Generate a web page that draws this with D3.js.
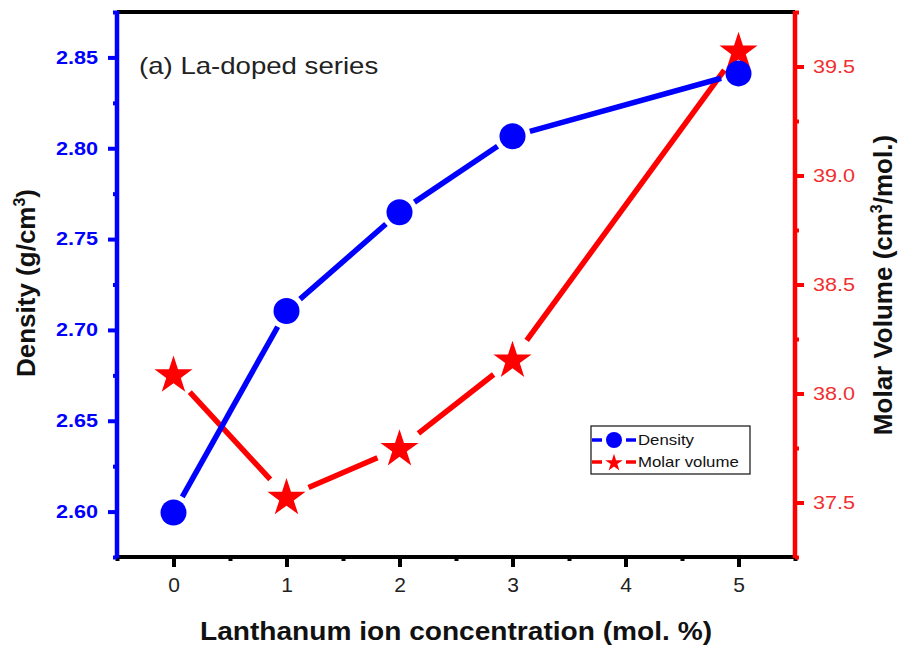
<!DOCTYPE html>
<html>
<head>
<meta charset="utf-8">
<script src="https://cdn.jsdelivr.net/npm/d3@7/dist/d3.min.js"></script>
<style>
  html, body { margin: 0; padding: 0; background: #fff; }
  svg { display: block; font-family: Arial, "Liberation Sans", sans-serif; }
</style>
</head>
<body>
<svg id="chart" width="898" height="648"></svg>
<script>
// La-doped glass series: density and molar volume vs. La ion content
const concentration = [0, 1, 2, 3, 5];
const density = [2.5995, 2.7104, 2.7648, 2.8066, 2.8412];
const molarVolume = [38.087, 37.525, 37.749, 38.155, 39.572];

const xTicks = [0, 1, 2, 3, 4, 5];
const xMinorTicks = [-0.5, 0.5, 1.5, 2.5, 3.5, 4.5, 5.5];
const densityTicks = [2.60, 2.65, 2.70, 2.75, 2.80, 2.85];
const densityMinorTicks = [2.575, 2.625, 2.675, 2.725, 2.775, 2.825, 2.875];
const molarTicks = [37.5, 38.0, 38.5, 39.0, 39.5];
const molarMinorTicks = [37.25, 37.75, 38.25, 38.75, 39.25, 39.75];

const seriesNames = ["Density", "Molar volume"];

const BLUE = "#0000ff", RED = "#ff0000";
const SX = 1.2; // horizontal text stretch

const svg = d3.select("#chart");
svg.append("rect").attr("width", 898).attr("height", 648).attr("fill", "#fff");

const L = 117, R = 795, T = 12, B = 557;

const x = d3.scaleLinear().domain([-0.5, 5.5]).range([L, R]);
const yD = d3.scaleLinear().domain([2.575, 2.875]).range([B, T]);
const yM = d3.scaleLinear().domain([37.25, 39.75]).range([B, T]);

// ---- axes ----
function styleAxis(g, color, width) {
  g.select(".domain").remove();
  g.selectAll(".tick line").attr("stroke", color).attr("stroke-width", width);
}

// minor ticks
svg.append("g").attr("transform", `translate(0,${B})`)
  .call(d3.axisBottom(x).tickValues(xMinorTicks).tickSize(4).tickFormat(""))
  .call(g => styleAxis(g, "#000", 4));
svg.append("g").attr("transform", `translate(${L},0)`)
  .call(d3.axisLeft(yD).tickValues(densityMinorTicks).tickSize(4).tickFormat(""))
  .call(g => styleAxis(g, BLUE, 4));
svg.append("g").attr("transform", `translate(${R},0)`)
  .call(d3.axisRight(yM).tickValues(molarMinorTicks).tickSize(4).tickFormat(""))
  .call(g => styleAxis(g, RED, 4));

// major ticks + labels
const gx = svg.append("g").attr("transform", `translate(0,${B})`)
  .call(d3.axisBottom(x).tickValues(xTicks).tickSize(10).tickPadding(10).tickFormat(d3.format("d")))
  .call(g => styleAxis(g, "#000", 4));
gx.selectAll(".tick text")
  .attr("fill", "#222").attr("font-size", 21)
  .attr("transform", "scale(1.0,1)");

const gl = svg.append("g").attr("transform", `translate(${L},0)`)
  .call(d3.axisLeft(yD).tickValues(densityTicks).tickSize(9).tickPadding(10).tickFormat(d3.format(".2f")))
  .call(g => styleAxis(g, BLUE, 4));
gl.selectAll(".tick text")
  .attr("fill", BLUE).attr("font-size", 18).attr("font-weight", "bold")
  .attr("x", -19 / SX).attr("transform", `scale(${SX},1)`);

const gr = svg.append("g").attr("transform", `translate(${R},0)`)
  .call(d3.axisRight(yM).tickValues(molarTicks).tickSize(9).tickPadding(9).tickFormat(d3.format(".1f")))
  .call(g => styleAxis(g, RED, 4));
gr.selectAll(".tick text")
  .attr("fill", "#f03030").attr("font-size", 18)
  .attr("x", 18 / SX).attr("transform", `scale(${SX},1)`);

// frame
svg.append("line").attr("x1", L).attr("x2", R).attr("y1", T).attr("y2", T)
  .attr("stroke", "#000").attr("stroke-width", 4);
svg.append("line").attr("x1", L).attr("x2", R).attr("y1", B).attr("y2", B)
  .attr("stroke", "#000").attr("stroke-width", 4);
svg.append("line").attr("x1", L).attr("x2", L).attr("y1", T - 1).attr("y2", B + 1)
  .attr("stroke", BLUE).attr("stroke-width", 4.5);
svg.append("line").attr("x1", R).attr("x2", R).attr("y1", T - 1).attr("y2", B + 1)
  .attr("stroke", RED).attr("stroke-width", 4.5);

// ---- series ----
const starPath = d3.symbol(d3.symbolStar, 450)();
const legendStar = d3.symbol(d3.symbolStar, 95)();

// connecting segments with a gap around each symbol
function gappedSegments(pts, gap) {
  const segs = [];
  for (let i = 0; i < pts.length - 1; i++) {
    const [x1, y1] = pts[i], [x2, y2] = pts[i + 1];
    const len = Math.hypot(x2 - x1, y2 - y1);
    const ux = (x2 - x1) / len, uy = (y2 - y1) / len;
    segs.push([x1 + ux * gap, y1 + uy * gap, x2 - ux * gap, y2 - uy * gap]);
  }
  return segs;
}

const molarPts = concentration.map((c, i) => [x(c), yM(molarVolume[i])]);
const densPts = concentration.map((c, i) => [x(c), yD(density[i])]);

const gM = svg.append("g");
gM.selectAll("line").data(gappedSegments(molarPts, 24)).join("line")
  .attr("x1", d => d[0]).attr("y1", d => d[1]).attr("x2", d => d[2]).attr("y2", d => d[3])
  .attr("stroke", RED).attr("stroke-width", 5.5);
gM.selectAll("path").data(molarPts).join("path")
  .attr("d", starPath).attr("transform", d => `translate(${d[0]},${d[1] + 1})`)
  .attr("fill", RED);

const gD = svg.append("g");
gD.selectAll("line").data(gappedSegments(densPts, 18)).join("line")
  .attr("x1", d => d[0]).attr("y1", d => d[1]).attr("x2", d => d[2]).attr("y2", d => d[3])
  .attr("stroke", BLUE).attr("stroke-width", 5.5);
gD.selectAll("circle").data(densPts).join("circle")
  .attr("cx", d => d[0]).attr("cy", d => d[1]).attr("r", 13)
  .attr("fill", BLUE);

// ---- text ----
svg.append("text")
  .attr("transform", `translate(139,74) scale(${SX},1)`)
  .attr("font-size", 23).attr("fill", "#222")
  .text("(a) La-doped series");

svg.append("text")
  .attr("x", 456).attr("y", 640).attr("text-anchor", "middle")
  .attr("font-size", 25).attr("font-weight", "bold").attr("fill", "#111")
  .attr("textLength", 512).attr("lengthAdjust", "spacingAndGlyphs")
  .text("Lanthanum ion concentration (mol. %)");

const tl = svg.append("text")
  .attr("transform", "translate(35,283) rotate(-90)")
  .attr("text-anchor", "middle")
  .attr("font-size", 26).attr("font-weight", "bold").attr("fill", "#111");
tl.append("tspan").text("Density (g/cm");
tl.append("tspan").attr("font-size", 16).attr("dy", -10).text("3");
tl.append("tspan").attr("dy", 10).text(")");

const tr = svg.append("text")
  .attr("transform", "translate(892,285) rotate(-90)")
  .attr("text-anchor", "middle")
  .attr("font-size", 26).attr("font-weight", "bold").attr("fill", "#111");
tr.append("tspan").text("Molar Volume (cm");
tr.append("tspan").attr("font-size", 16).attr("dy", -10).text("3");
tr.append("tspan").attr("dy", 10).text("/mol.)");

// ---- legend ----
const lg = svg.append("g");
lg.append("rect").attr("x", 591).attr("y", 426).attr("width", 159).attr("height", 48)
  .attr("fill", "#fff").attr("stroke", "#222").attr("stroke-width", 1.3);
const rows = [
  { name: seriesNames[0], color: BLUE, y: 440, sym: "circle" },
  { name: seriesNames[1], color: RED, y: 462, sym: "star" }
];
rows.forEach(r => {
  lg.append("line").attr("x1", 592).attr("x2", 602).attr("y1", r.y).attr("y2", r.y)
    .attr("stroke", r.color).attr("stroke-width", 3.5);
  lg.append("line").attr("x1", 626).attr("x2", 636).attr("y1", r.y).attr("y2", r.y)
    .attr("stroke", r.color).attr("stroke-width", 3.5);
  if (r.sym === "circle") {
    lg.append("circle").attr("cx", 614).attr("cy", r.y).attr("r", 8).attr("fill", r.color);
  } else {
    lg.append("path").attr("d", legendStar).attr("transform", `translate(614,${r.y + 1})`).attr("fill", r.color);
  }
  lg.append("text").attr("transform", `translate(638,${r.y + 5}) scale(${SX},1)`)
    .attr("font-size", 14).attr("fill", "#111").text(r.name);
});
</script>
</body>
</html>
